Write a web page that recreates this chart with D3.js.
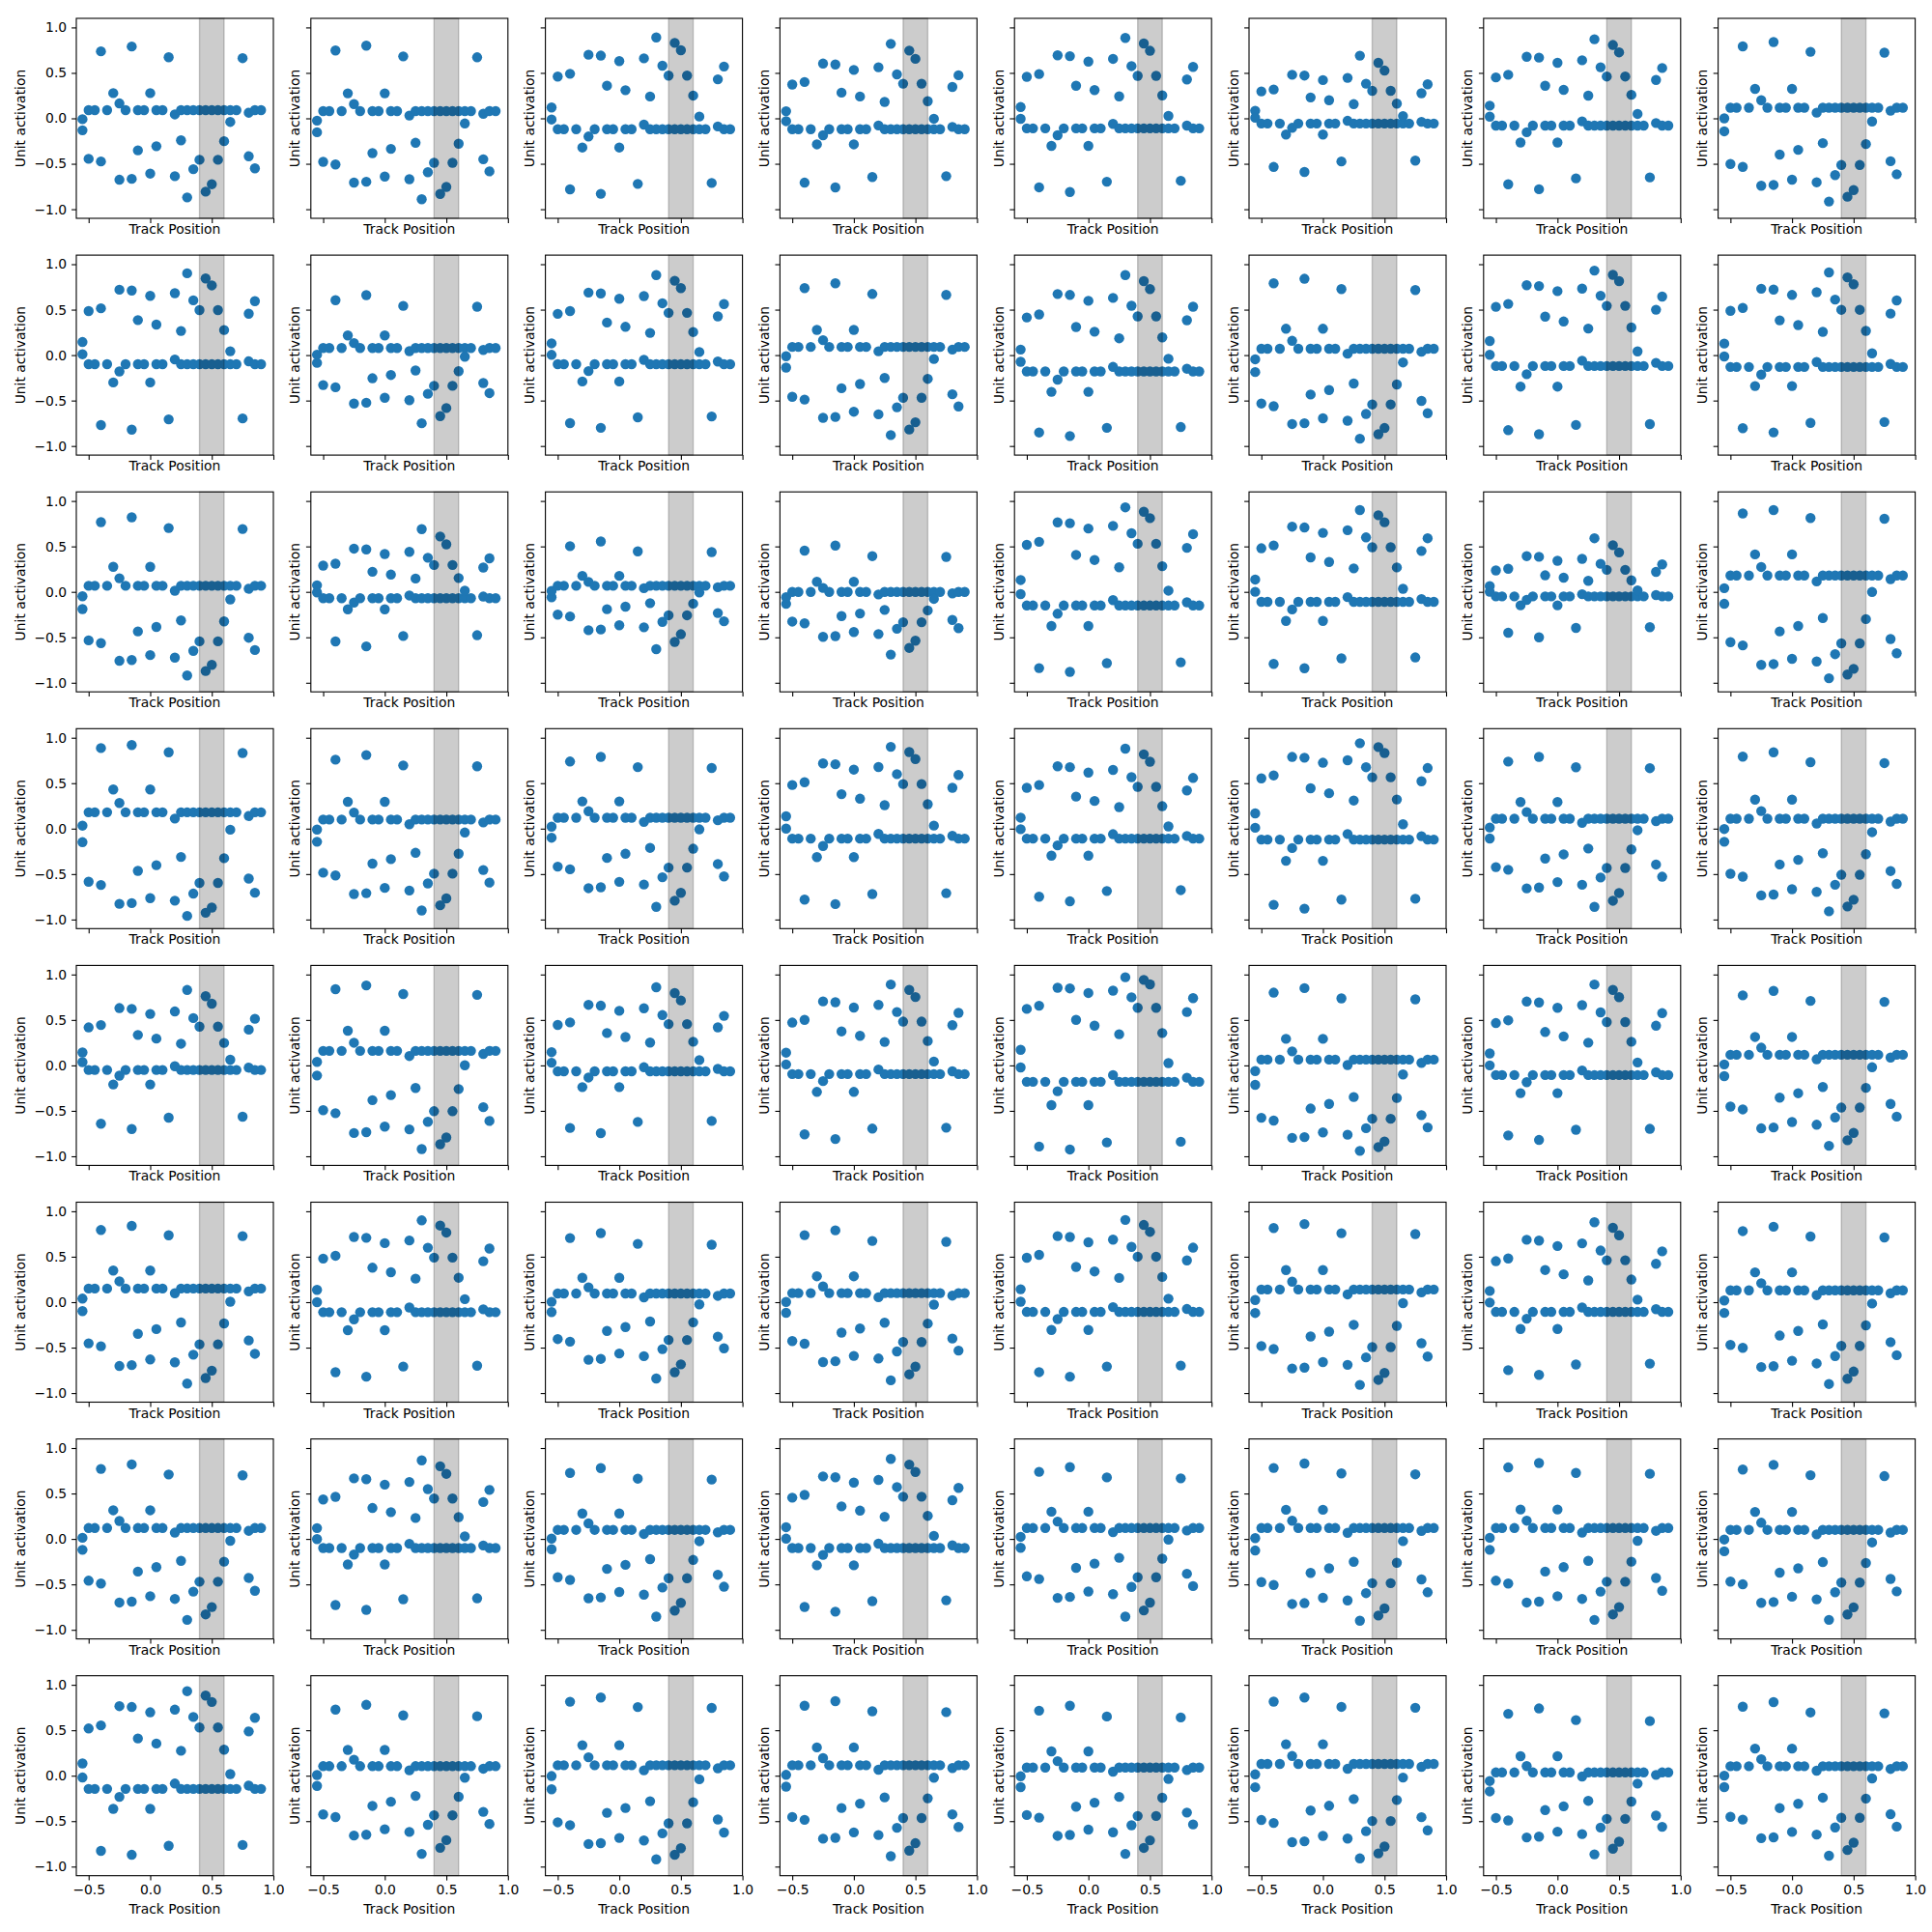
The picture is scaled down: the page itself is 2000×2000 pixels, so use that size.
<!DOCTYPE html>
<html><head><meta charset="utf-8">
<script src="https://cdn.jsdelivr.net/npm/d3@7"></script>
<style>
body{margin:0;background:#fff}
text{font-family:"DejaVu Sans",sans-serif;fill:#000}
</style></head>
<body><svg id="chart" width="2000" height="2000"></svg>
<script>
// Track positions sampled (shared by every unit panel)
const trackPositions = [-0.55,-0.5,-0.45,-0.4,-0.35,-0.3,-0.25,-0.2,-0.15,-0.1,-0.05,0,0.05,0.1,0.15,0.2,0.25,0.3,0.35,0.4,0.45,0.5,0.55,0.6,0.65,0.7,0.75,0.8,0.85,0.9];
// Relative response shape of the two samples at each position (0 = resting level, 1 = strongest response at 0.3)
const patternA = [0.156,0,0,0.426,0,-0.137,0.64,0,0.628,0,0,0.559,0,0,-0.51,0.592,0,0,0,0,0,0,0,0,0,0,-0.497,0.376,0,0];
const patternB = [0.07,0.40,null,-0.60,null,null,-0.053,null,-0.69,0.322,null,-0.137,0.286,null,null,0.033,0.237,1.0,0.507,0.409,0.848,0.708,0.409,0.244,0.091,null,null,0.020,0.498,null];
// Per unit (row-major, 8x8): resting activation, activation at the 0.3 peak, activation at the opposite extreme (-0.15 sample)
const panelBaseline = [
 0.09,0.08,-0.12,-0.12,-0.11,-0.057,-0.08,0.117,
 -0.10,0.078,-0.10,0.09,-0.18,0.07,-0.12,-0.13,
 0.067,-0.07,0.067,0.0,-0.15,-0.11,-0.05,0.18,
 0.18,0.10,0.12,-0.11,-0.11,-0.12,0.11,0.11,
 -0.05,0.16,-0.065,-0.095,-0.18,0.064,-0.106,0.117,
 0.15,-0.11,0.096,0.10,-0.107,0.14,-0.107,0.13,
 0.12,-0.10,0.10,-0.10,0.12,0.12,0.12,0.10,
 -0.145,0.105,0.115,0.115,0.09,0.13,0.036,0.104];
const panelPeak = [
 -0.87,-0.89,0.89,0.82,0.885,0.69,0.87,-0.915,
 0.90,-0.75,0.88,-0.88,0.88,-0.92,0.93,0.91,
 -0.92,0.69,-0.63,-0.69,0.93,0.90,0.59,-0.95,
 -0.96,-0.90,-0.86,0.90,0.88,0.94,-0.86,-0.91,
 0.83,-0.92,0.86,0.89,0.97,-0.94,0.89,-0.885,
 -0.895,0.90,-0.84,-0.86,0.905,-0.91,0.88,-0.90,
 -0.89,0.865,-0.855,0.88,-0.855,-0.90,-0.89,-0.89,
 0.93,-0.86,-0.92,-0.885,-0.86,-0.91,-0.865,-0.88];
const panelOpposite = [
 0.79,0.80,-0.83,-0.76,-0.81,-0.59,-0.78,0.84,
 -0.82,0.66,-0.80,0.79,-0.89,0.84,-0.87,-0.85,
 0.82,-0.60,0.555,0.51,-0.88,-0.84,-0.50,0.90,
 0.92,0.81,0.79,-0.83,-0.80,-0.88,0.79,0.84,
 -0.70,0.88,-0.745,-0.81,-0.925,0.85,-0.82,0.82,
 0.84,-0.82,0.76,0.79,-0.82,0.86,-0.80,0.83,
 0.82,-0.78,0.78,-0.80,0.79,0.83,0.835,0.815,
 -0.87,0.78,0.86,0.82,0.77,0.86,0.74,0.81];
const xTicks = [-0.5,0,0.5,1.0];
const yTicks = [-1.0,-0.5,0,0.5,1.0];
const shadedRange = [0.4,0.6];

const NR=8, NC=8;
const left0=79, colStep=242.8, axW=204;
const top0=19, rowStep=245.1, axH=207;
const FS=13.9;

const svg=d3.select('#chart');
svg.append('rect').attr('width',2000).attr('height',2000).attr('fill','#fff');

const x=d3.scaleLinear().domain([-0.6,1.0]).range([0,axW]);
const y=d3.scaleLinear().domain([-1.1,1.1]).range([axH,0]);
const fmt=d3.format('.1f');

function act(p,t){
  const b=Math.atanh(panelBaseline[p]);
  let v;
  if(t>=0) v=b+t*(Math.atanh(panelPeak[p])-b);
  else v=b+(t/-0.69)*(Math.atanh(panelOpposite[p])-b);
  return Math.tanh(v);
}

for(let r=0;r<NR;r++){
  for(let c=0;c<NC;c++){
    const p=r*NC+c;
    const g=svg.append('g').attr('transform',`translate(${left0+c*colStep},${top0+r*rowStep})`);
    const pts=[];
    trackPositions.forEach((tp,i)=>{
      pts.push([tp,act(p,patternA[i])]);
      if(patternB[i]!==null) pts.push([tp,act(p,patternB[i])]);
    });
    g.selectAll('circle').data(pts).join('circle')
      .attr('cx',d=>x(d[0])).attr('cy',d=>y(d[1])).attr('r',5.2)
      .attr('fill','#1f77b4');
    g.append('rect').attr('x',x(shadedRange[0])).attr('y',0)
      .attr('width',x(shadedRange[1])-x(shadedRange[0])).attr('height',axH)
      .attr('fill','rgba(0,0,0,0.2)').attr('stroke','rgba(0,0,0,0.2)').attr('stroke-width',1.4);
    const xa=d3.axisBottom(x).tickValues(xTicks).tickSizeInner(4.9).tickSizeOuter(0).tickPadding(4.9)
      .tickFormat(r===NR-1?fmt:()=> '');
    const gx=g.append('g').attr('transform',`translate(0,${axH})`).call(xa);
    const ya=d3.axisLeft(y).tickValues(yTicks).tickSizeInner(4.9).tickSizeOuter(0).tickPadding(4.9)
      .tickFormat(c===0?fmt:()=> '');
    const gy=g.append('g').call(ya);
    [gx,gy].forEach(a=>{
      a.select('.domain').remove();
      a.selectAll('line').attr('stroke','#000').attr('stroke-width',1.1);
      a.selectAll('text').attr('font-size',FS).attr('font-family','DejaVu Sans').attr('fill','#000');
    });
    g.append('rect').attr('x',0).attr('y',0).attr('width',axW).attr('height',axH)
      .attr('fill','none').attr('stroke','#000').attr('stroke-width',1.1);
    g.append('text').attr('x',axW/2).attr('y',r===NR-1?axH+34:axH+11)
      .attr('text-anchor','middle').attr('dominant-baseline','central')
      .attr('font-size',FS).text('Track Position');
    const lx=c===0?-58:-16.5;
    g.append('text').attr('transform',`translate(${lx},${axH/2}) rotate(-90)`)
      .attr('text-anchor','middle').attr('dominant-baseline','central')
      .attr('font-size',FS).text('Unit activation');
  }
}
</script>
</body></html>
